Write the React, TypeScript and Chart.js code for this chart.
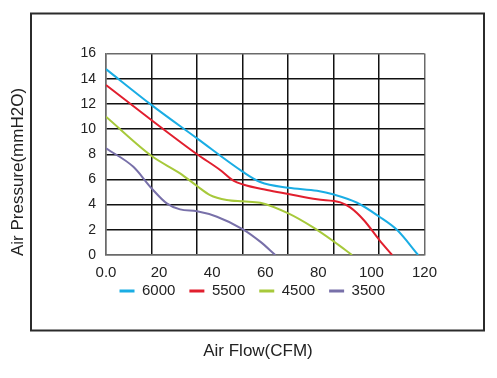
import React, { useEffect, useRef } from "react";
import { Chart, registerables } from "chart.js";

Chart.register(...registerables);

// ---- data ----
const seriesNames = ["6000", "5500", "4500", "3500"];
const seriesColors = ["#1aade4", "#e11f2e", "#a7c93b", "#7870a9"];

const flow6000 = [0, 17.2, 34.3, 51.6, 58.1, 68.7, 79.5, 85.9, 94.6, 103, 109.7, 117.6];
const pressure6000 = [14.76, 11.9, 9.26, 6.6, 5.8, 5.34, 5.1, 4.8, 4.15, 3.04, 1.98, 0];

const flow5500 = [0, 17.2, 34.3, 43, 48, 51.6, 60.6, 68.7, 79.5, 88.3, 92, 97.1, 103, 107.8];
const pressure5500 = [13.5, 10.7, 8.0, 6.75, 5.9, 5.6, 5.16, 4.84, 4.42, 4.18, 3.78, 2.78, 1.19, 0];

const flow4500 = [0, 17.2, 27.9, 34.3, 39.2, 45.5, 51.6, 58.1, 68.7, 78.2, 85.9, 92.7];
const pressure4500 = [10.98, 7.86, 6.48, 5.48, 4.76, 4.37, 4.26, 4.15, 3.3, 2.17, 1.06, 0];

const flow3500 = [0, 10.3, 17.2, 22.9, 27.9, 34.3, 41.8, 51.6, 58.1, 63.8];
const pressure3500 = [8.47, 7.0, 5.29, 4.1, 3.62, 3.47, 3.04, 2.04, 1.06, 0];

const xTickLabels = ["0.0", "20", "40", "60", "80", "100", "120"];
const xMax = 120;
const xStep = 20;
const gridColumns = 7;
const yMax = 16;
const yStep = 2;

const xTitle = "Air Flow(CFM)";
const yTitle = "Air Pressure(mmH2O)";

const FONT = '"Liberation Sans", Arial, Helvetica, sans-serif';

const framePlugin = {
  id: "frame",
  afterDraw(chart: any) {
    const ctx = chart.ctx;
    ctx.save();
    ctx.strokeStyle = "#2b2b2b";
    ctx.lineWidth = 2;
    ctx.strokeRect(31, 13.5, 453, 317);
    ctx.fillStyle = "#222";
    ctx.font = `17px ${FONT}`;
    ctx.textAlign = "center";
    ctx.textBaseline = "middle";
    ctx.fillText(xTitle, 258, 351);
    ctx.translate(18.5, 172);
    ctx.rotate(-Math.PI / 2);
    ctx.fillText(yTitle, 0, 0);
    ctx.restore();
  },
};

export default function App() {
  const canvasRef = useRef<HTMLCanvasElement | null>(null);

  useEffect(() => {
    if (!canvasRef.current) return;
    Chart.defaults.font.family = FONT;
    const flows = [flow6000, flow5500, flow4500, flow3500];
    const pressures = [pressure6000, pressure5500, pressure4500, pressure3500];
    const datasets = seriesNames.map((name, i) => ({
      label: name,
      data: flows[i].map((x, j) => ({ x, y: pressures[i][j] })),
      borderColor: seriesColors[i],
      backgroundColor: seriesColors[i],
      borderWidth: 2,
      pointRadius: 0,
      cubicInterpolationMode: "monotone" as const,
      fill: false,
    }));
    const gridTicks = Array.from({ length: gridColumns + 1 }, (_, i) => (i * xMax) / gridColumns);

    const chart = new Chart(canvasRef.current, {
      type: "line",
      data: { datasets },
      options: {
        animation: false,
        responsive: true,
        maintainAspectRatio: false,
        layout: { padding: { left: 80, right: 72.5, top: 53.5, bottom: 69.5 } },
        scales: {
          x: {
            type: "linear",
            min: 0,
            max: xMax,
            position: "bottom",
            afterBuildTicks: (scale: any) => {
              scale.ticks = gridTicks.map((v) => ({ value: v }));
            },
            afterFit: (scale: any) => {
              scale.height = 0;
            },
            ticks: { display: false },
            grid: {
              drawTicks: false,
              lineWidth: 1.5,
              color: (c: any) =>
                c.index === 0 || c.index === gridColumns ? "#6a6a6a" : "#111111",
            },
            border: { color: "#6a6a6a", width: 1.5 },
          },
          x2: {
            type: "linear",
            min: 0,
            max: xMax,
            position: "bottom",
            afterFit: (scale: any) => {
              scale.height = 14.5;
            },
            ticks: {
              stepSize: xStep,
              mirror: true,
              padding: -27,
              maxRotation: 0,
              autoSkip: false,
              color: "#222",
              font: { size: 15 },
              callback: (v: any) => xTickLabels[Math.round(Number(v) / xStep)] ?? "",
            },
            grid: { display: false, drawTicks: false },
            border: { display: false },
          },
          y: {
            min: 0,
            max: yMax,
            afterFit: (scale: any) => {
              scale.width = 26;
            },
            ticks: {
              stepSize: yStep,
              padding: 10,
              color: "#222",
              font: { size: 14 },
            },
            grid: {
              drawTicks: false,
              lineWidth: 1.5,
              color: (c: any) =>
                c.tick && (c.tick.value === 0 || c.tick.value === yMax) ? "#6a6a6a" : "#111111",
            },
            border: { color: "#6a6a6a", width: 1.5 },
          },
        },
        plugins: {
          legend: {
            position: "bottom",
            labels: {
              boxWidth: 15,
              boxHeight: 3,
              padding: 14,
              color: "#222",
              font: { size: 15 },
              generateLabels: (ch: any) =>
                Chart.defaults.plugins.legend.labels
                  .generateLabels(ch)
                  .map((l: any) => ({ ...l, lineWidth: 0 })),
            },
          },
          tooltip: { enabled: false },
        },
      },
      plugins: [framePlugin],
    });
    return () => chart.destroy();
  }, []);

  return (
    <div style={{ position: "absolute", left: 0, top: 0, width: 497, height: 378 }}>
      <canvas ref={canvasRef} />
    </div>
  );
}
